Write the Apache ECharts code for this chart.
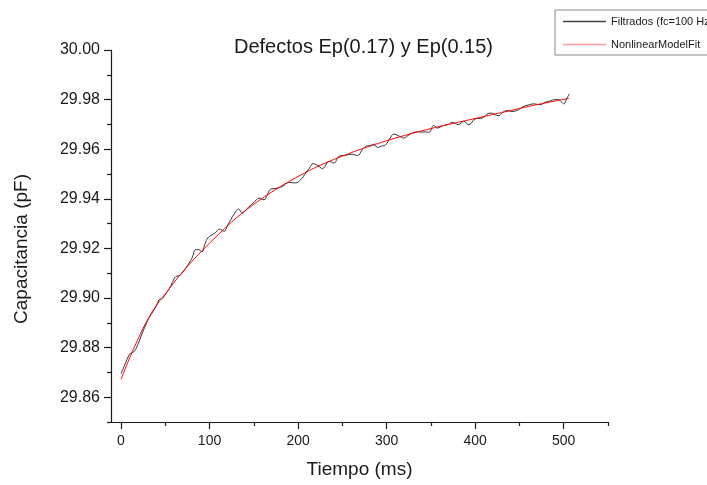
<!DOCTYPE html>
<html>
<head>
<meta charset="utf-8">
<script src="https://cdn.jsdelivr.net/npm/echarts@6/dist/echarts.min.js"></script>
<style>
html,body{margin:0;padding:0;background:#fff;}
#chart{width:707px;height:485px;}
</style>
</head>
<body>
<div id="chart"></div>
<script>
// ---- Data ----
var titleText = 'Defectos Ep(0.17) y Ep(0.15)';
var xName = 'Tiempo (ms)';
var yName = 'Capacitancia (pF)';
var seriesNames = ['Filtrados (fc=100 Hz)', 'NonlinearModelFit'];

var xMajorTicks = [0, 100, 200, 300, 400, 500];
var xMinorTicks = [50, 150, 250, 350, 450, 550];
var yMajorTicks = [29.86, 29.88, 29.90, 29.92, 29.94, 29.96, 29.98, 30.00];
var yMinorTicks = [29.85, 29.87, 29.89, 29.91, 29.93, 29.95, 29.97, 29.99];

// Filtered measurement (black)
var filtT = [0, 4, 8, 11, 15, 19, 24, 28, 32, 36, 40, 43, 47, 51, 55, 58, 62, 66, 70, 75,
  80, 84.6, 88, 91.3, 95, 98, 103, 107, 111, 116.5, 120, 124, 128, 132.7, 137, 141, 144.7, 150, 156, 161.6,
  165, 169, 175, 182.4, 186, 190, 197, 203, 208.6, 213, 217, 223.6, 227.5, 231, 235, 240.6, 246, 253, 261, 267,
  272, 276, 281, 285.7, 289.7, 294, 298.9, 304, 308, 313, 319.5, 324, 329, 335, 340, 344, 347.7, 353.3, 357, 361,
  364.6, 370, 374, 381, 387, 392.7, 400, 408, 417, 426.6, 431, 436, 441, 447, 455, 460, 466, 473.6, 479, 485,
  490, 494, 497, 500, 503.7, 506.5];
var filtV = [29.8695, 29.8728, 29.8762, 29.8778, 29.8785, 29.8812, 29.8858, 29.8892, 29.8922, 29.8945,
  29.8970, 29.8993, 29.9000, 29.9020, 29.9040, 29.9062, 29.9087, 29.9090, 29.9105, 29.9130,
  29.9160, 29.9195, 29.9195, 29.9186, 29.9220, 29.9242, 29.9255, 29.9265, 29.9278, 29.9269,
  29.9290, 29.9316, 29.9340, 29.9359, 29.9343, 29.9355, 29.9369, 29.9385, 29.9403, 29.9396,
  29.9415, 29.9439, 29.9442, 29.9450, 29.9460, 29.9466, 29.9464, 29.9477, 29.9504, 29.9525,
  29.9542, 29.9531, 29.9521, 29.9535, 29.9551, 29.9544, 29.9571, 29.9575, 29.9580, 29.9574,
  29.9595, 29.9611, 29.9615, 29.9618, 29.9607, 29.9612, 29.9618, 29.9645, 29.9661, 29.9655,
  29.9645, 29.9655, 29.9665, 29.9670, 29.9669, 29.9670, 29.9668, 29.9696, 29.9685, 29.9690,
  29.9696, 29.9700, 29.9708, 29.9699, 29.9712, 29.9699, 29.9722, 29.9726, 29.9746, 29.9735,
  29.9748, 29.9756, 29.9752, 29.9756, 29.9773, 29.9778, 29.9783, 29.9779, 29.9789, 29.9795,
  29.9800, 29.9800, 29.9792, 29.9783, 29.9806, 29.9823];

// Nonlinear model fit (red)
var fitT = [0, 10, 20, 30, 40, 50, 60, 70, 80, 90, 100, 110, 120, 130, 140, 150, 160, 170, 180, 190,
  200, 210, 220, 230, 240, 250, 260, 270, 280, 290, 300, 310, 320, 330, 340, 350, 360, 370, 380, 390,
  400, 410, 420, 430, 440, 450, 460, 470, 480, 490, 500, 506];
var fitV = [29.8672, 29.8760, 29.8840, 29.8912, 29.8970, 29.9016, 29.9063, 29.9107, 29.9147, 29.9185,
  29.9221, 29.9256, 29.9290, 29.9322, 29.9351, 29.9378, 29.9403, 29.9427, 29.9449, 29.9470,
  29.9490, 29.9509, 29.9527, 29.9543, 29.9558, 29.9572, 29.9586, 29.9599, 29.9611, 29.9623,
  29.9634, 29.9645, 29.9655, 29.9665, 29.9674, 29.9683, 29.9692, 29.9700, 29.9708, 29.9716,
  29.9724, 29.9732, 29.9740, 29.9748, 29.9756, 29.9764, 29.9772, 29.9780, 29.9787, 29.9794,
  29.9801, 29.9805];

function zip(a, b) { return a.map(function (v, i) { return [v, b[i]]; }); }

var FONT = 'Liberation Sans, Arial, Helvetica, sans-serif';
var XMIN = -11.3, XMAX = 550, YMIN = 29.85, YMAX = 30.00;

var chart = echarts.init(document.getElementById('chart'), null, {renderer: 'canvas'});
chart.setOption({
  animation: false,
  backgroundColor: '#ffffff',
  textStyle: {fontFamily: FONT},
  title: {
    text: titleText,
    left: 234, top: 37, padding: 0,
    textStyle: {fontFamily: FONT, fontSize: 20, fontWeight: 'normal', color: '#1a1a1a'}
  },
  legend: {
    orient: 'vertical',
    left: 555, top: 10,
    padding: [6, 14, 5, 8],
    itemGap: 12,
    itemWidth: 43, itemHeight: 1.5,
    icon: 'rect',
    borderColor: '#8a8a8a', borderWidth: 1,
    textStyle: {fontFamily: FONT, fontSize: 11, color: '#1a1a1a'},
    data: [
      {name: seriesNames[0], itemStyle: {color: '#444444'}},
      {name: seriesNames[1], itemStyle: {color: '#ff9a9a'}}
    ]
  },
  grid: {left: 111, right: 99, top: 50, bottom: 63, containLabel: false},
  xAxis: [{
    type: 'value', min: XMIN, max: XMAX, position: 'bottom',
    name: xName, nameLocation: 'middle', nameGap: 38,
    nameTextStyle: {fontFamily: FONT, fontSize: 19, color: '#1a1a1a'},
    axisLine: {show: true, onZero: false, lineStyle: {color: '#1a1a1a', width: 1.2}},
    axisTick: {show: true, inside: false, length: 7, customValues: xMajorTicks, lineStyle: {color: '#1a1a1a', width: 1.2}},
    axisLabel: {show: true, margin: 12, customValues: xMajorTicks, fontFamily: FONT, fontSize: 14, color: '#1a1a1a'},
    splitLine: {show: false}
  }, {
    type: 'value', min: XMIN, max: XMAX, position: 'bottom', gridIndex: 0,
    axisLine: {show: false, onZero: false},
    axisTick: {show: true, inside: false, length: 4, customValues: xMinorTicks, lineStyle: {color: '#1a1a1a', width: 1.2}},
    axisLabel: {show: false},
    splitLine: {show: false}
  }],
  yAxis: [{
    type: 'value', min: YMIN, max: YMAX, position: 'left',
    axisLine: {show: true, onZero: false, lineStyle: {color: '#1a1a1a', width: 1.2}},
    axisTick: {show: true, inside: false, length: 7, customValues: yMajorTicks, lineStyle: {color: '#1a1a1a', width: 1.2}},
    axisLabel: {show: true, margin: 11, customValues: yMajorTicks, fontFamily: FONT, fontSize: 16, color: '#1a1a1a',
      formatter: function (v) { return Number(v).toFixed(2); }},
    splitLine: {show: false}
  }, {
    type: 'value', min: YMIN, max: YMAX, position: 'left', gridIndex: 0,
    axisLine: {show: false, onZero: false},
    axisTick: {show: true, inside: false, length: 4, customValues: yMinorTicks, lineStyle: {color: '#1a1a1a', width: 1.2}},
    axisLabel: {show: false},
    splitLine: {show: false}
  }],
  graphic: [{
    type: 'text',
    x: 22, y: 249, rotation: Math.PI / 2,
    style: {text: yName, fontFamily: FONT, fontSize: 19, fill: '#1a1a1a', align: 'center', verticalAlign: 'middle'}
  }],
  series: [{
    name: seriesNames[0], type: 'line', xAxisIndex: 0, yAxisIndex: 0,
    data: zip(filtT, filtV), showSymbol: false, symbol: 'none', smooth: 0.4,
    lineStyle: {color: '#333333', width: 1}, itemStyle: {color: '#333333'}, z: 2
  }, {
    name: seriesNames[1], type: 'line', xAxisIndex: 0, yAxisIndex: 0,
    data: zip(fitT, fitV), showSymbol: false, symbol: 'none', smooth: 0.5,
    lineStyle: {color: '#ff0000', width: 1}, itemStyle: {color: '#ff0000'}, z: 3
  }]
});
</script>
</body>
</html>
